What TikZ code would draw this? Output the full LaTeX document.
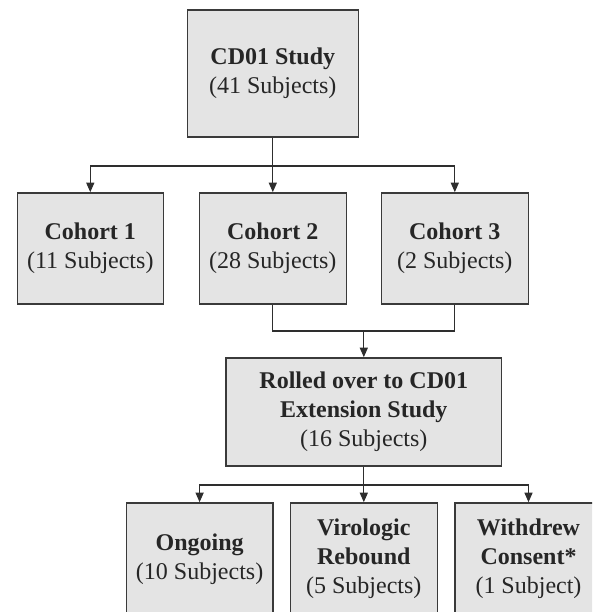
\documentclass[tikz,border=0pt]{standalone}
\usepackage{fontspec}
\setmainfont{Liberation Serif}
\usetikzlibrary{arrows.meta}
\definecolor{boxfill}{HTML}{E4E4E4}
\definecolor{boxline}{HTML}{3A3A3A}
\definecolor{conn}{HTML}{2E2E2E}
\begin{document}
\begin{tikzpicture}[x=1pt,y=-1pt,
  box/.style={draw=boxline,fill=boxfill,line width=1.6pt,inner sep=0pt,
    align=center,font=\fontsize{24}{29}\selectfont,text=black!85},
  link/.style={draw=conn,line width=1.3pt},
  arr/.style={link,-{Triangle[width=8pt,length=9.5pt]}}]
\useasboundingbox (0,0) rectangle (592,612);
\clip (0,0) rectangle (592,612);
\node[box,minimum width=171pt,minimum height=127pt] (cd) at (272.8,73.7) {\textbf{CD01 Study}\\(41 Subjects)};
\node[box,minimum width=146pt,minimum height=111pt] (c1) at (90.3,248.5) {\textbf{Cohort 1}\\(11 Subjects)};
\node[box,minimum width=147pt,minimum height=111pt] (c2) at (272.8,248.5) {\textbf{Cohort 2}\\(28 Subjects)};
\node[box,minimum width=147pt,minimum height=111pt] (c3) at (454.8,248.5) {\textbf{Cohort 3}\\(2 Subjects)};
\node[box,minimum width=275.5pt,minimum height=108pt] (ro) at (363.8,412) {\textbf{Rolled over to CD01}\\\textbf{Extension Study}\\(16 Subjects)};
\node[box,minimum width=146.5pt,minimum height=112pt] (on) at (199.6,559) {\textbf{Ongoing}\\(10 Subjects)};
\node[box,minimum width=147pt,minimum height=112pt] (vr) at (363.8,559) {\textbf{Virologic}\\\textbf{Rebound}\\(5 Subjects)};
\node[box,minimum width=147pt,minimum height=112pt] (wd) at (528.5,559) {\textbf{Withdrew}\\\textbf{Consent*}\\(1 Subject)};
\coordinate (j1) at (272.8,166);
\coordinate (j2) at (363.8,331);
\coordinate (j3) at (363.8,485);
\draw[link] (cd.south) -- (j1);
\draw[arr] (j1) -| (c1.north);
\draw[arr] (j1) -- (c2.north);
\draw[arr] (j1) -| (c3.north);
\draw[link] (c2.south) |- (j2) -| (c3.south);
\draw[arr] (j2) -- (ro.north);
\draw[link] (ro.south) -- (j3);
\draw[arr] (j3) -| (on.north);
\draw[arr] (j3) -- (vr.north);
\draw[arr] (j3) -| (wd.north);
\end{tikzpicture}
\end{document}
